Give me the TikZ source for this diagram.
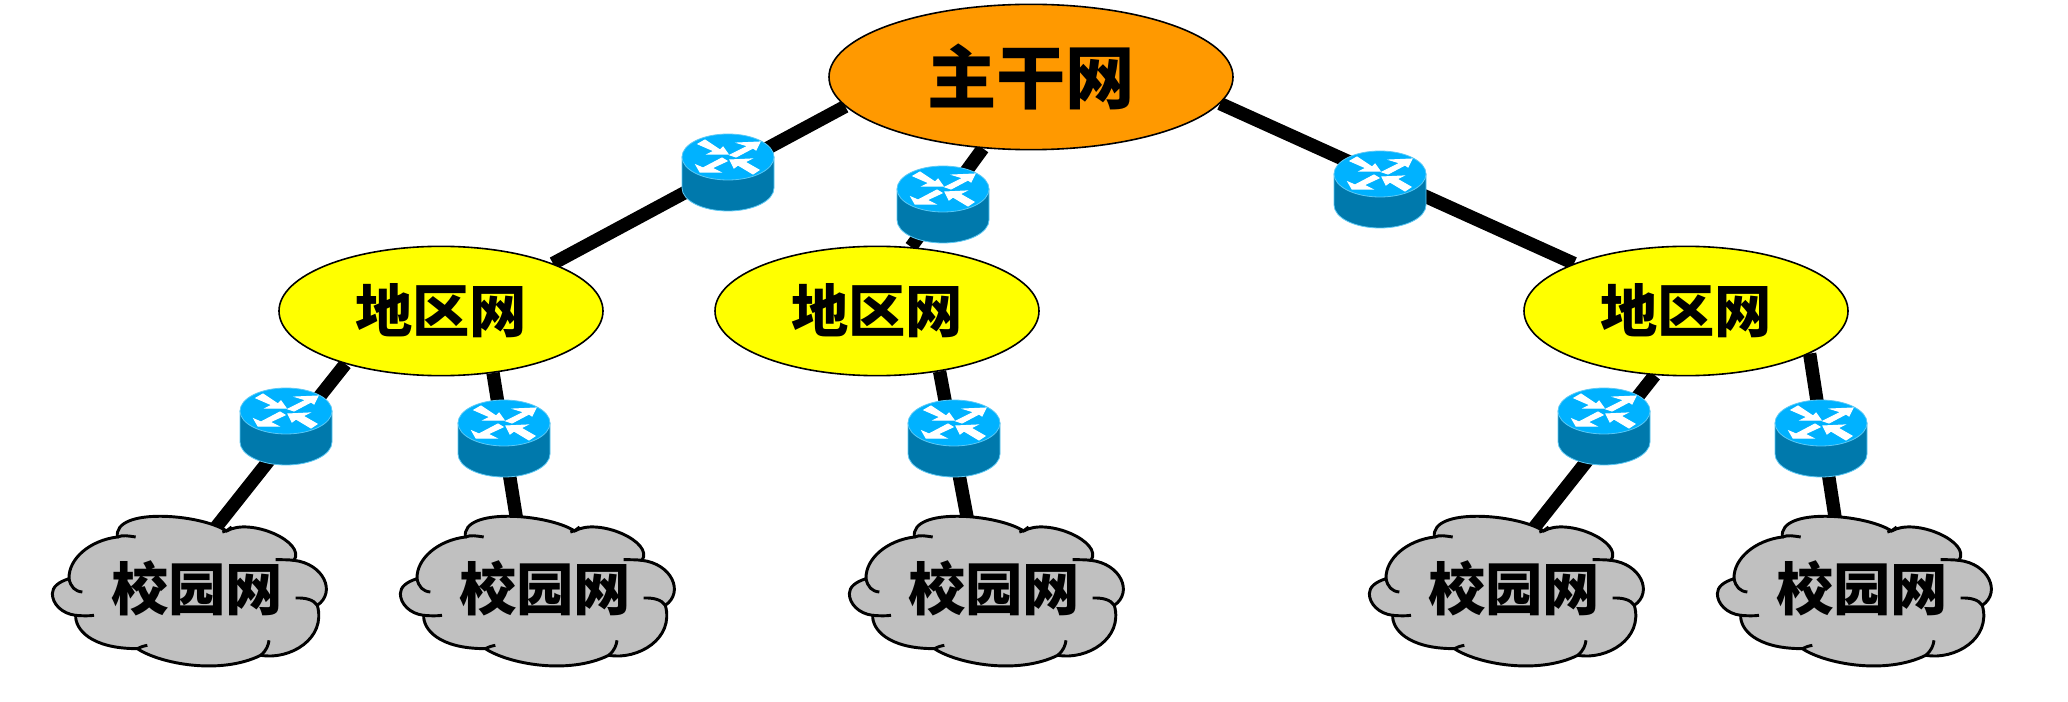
\documentclass[tikz,border=0pt]{standalone}
\usepackage{fontspec}
\newfontfamily\cjk{Noto Sans CJK SC}
\usetikzlibrary{shapes.geometric,backgrounds}
\definecolor{mainfill}{RGB}{255,153,0}
\definecolor{regfill}{RGB}{255,255,0}
\definecolor{cloudfill}{RGB}{192,192,192}
\definecolor{routertop}{RGB}{0,178,255}
\definecolor{routerside}{RGB}{0,121,172}
\definecolor{routeredge}{RGB}{90,200,245}
\tikzset{
  mainnet/.style={ellipse,draw,line width=1.2pt,fill=mainfill,minimum width=303pt,minimum height=109pt,inner sep=0pt,font=\cjk\bfseries\fontsize{52}{52}\selectfont},
  regnet/.style={ellipse,draw,line width=1.2pt,fill=regfill,minimum width=243pt,minimum height=97pt,inner sep=0pt,font=\cjk\bfseries\fontsize{43}{43}\selectfont},
  campusnet/.style={inner sep=0pt,font=\cjk\bfseries\fontsize{43}{43}\selectfont},
  link/.style={line width=10pt},
  router/.pic={
    \begin{scope}[yscale=-1]
    \draw[routeredge,line width=0.6pt,fill=routerside] (-46,-15) -- (-46,16) arc[start angle=180,end angle=0,x radius=46,y radius=23] -- (46,-15) -- cycle;
    \draw[routeredge,line width=0.6pt,fill=routertop] (0,-15) ellipse[x radius=46,y radius=23];
    \filldraw[white,line width=0.8pt] (-30,-28) -- (-23,-32) -- (-8,-22) -- (-5,-25) -- (0,-18) -- (-20,-18) -- (-14,-21) -- cycle;
    \filldraw[white,line width=0.8pt] (2,-17) -- (20,-26) -- (10,-29) -- (32,-30) -- (28,-22) -- (25,-24) -- (8,-15) -- cycle;
    \filldraw[white,line width=0.8pt] (-6,-14) -- (-1,-11) -- (-16,-4) -- (-8,0) -- (-28,0) -- (-32,-7) -- (-25,-4) -- cycle;
    \filldraw[white,line width=0.8pt] (2,-12) -- (23,-13) -- (17,-10) -- (31,-2) -- (25,2) -- (10,-7) -- (6,-4) -- cycle;
    \end{scope}
  },
  campus/.pic={
    \begin{scope}[scale=0.3333,yscale=-1,line width=2.2pt]
    %Cloud outline
    \draw[fill=cloudfill] (-363,-40) .. controls (-395,-30) and (-413,-15) .. (-413,5)
      .. controls (-413,35) and (-385,65) .. (-343,70)
      .. controls (-345,110) and (-300,170) .. (-158,170)
      .. controls (-90,215) and (90,250) .. (212,190)
      .. controls (300,205) and (410,140) .. (382,40)
      .. controls (440,0) and (400,-85) .. (312,-95)
      .. controls (350,-150) and (180,-225) .. (110,-183)
      .. controls (30,-235) and (-230,-255) .. (-218,-165)
      .. controls (-300,-155) and (-365,-100) .. (-363,-40) -- cycle;
    %Inner strokes
    \draw (-363,-40) .. controls (-358,-15) and (-345,-2) .. (-323,0);
    \draw (-343,70) .. controls (-320,72) and (-305,72) .. (-288,70);
    \draw (-218,-165) .. controls (-200,-172) and (-185,-168) .. (-163,-165);
    \draw (97,-180) .. controls (105,-180) and (112,-185) .. (125,-195);
    \draw (312,-95) .. controls (295,-97) and (275,-97) .. (257,-97);
    \draw (382,40) .. controls (370,22) and (345,17) .. (317,18);
    \draw (212,190) .. controls (230,175) and (235,160) .. (237,145);
    \draw (-158,170) .. controls (-148,165) and (-140,162) .. (-128,160);
    \end{scope}
  },
}
\begin{document}
\begin{tikzpicture}[x=0.75pt,y=0.75pt,yscale=-1,xscale=1]
\useasboundingbox (0,0) rectangle (2068,702);

% Ellipse Nodes
\node[mainnet] (backbone) at (1031,77) {\raisebox{2pt}{主干网}};
\node[regnet] (regionA) at (441,311) {地区网};
\node[regnet] (regionB) at (877,311) {地区网};
\node[regnet] (regionC) at (1686,311) {地区网};

% Router Coordinates
\coordinate (routerA) at (728,172);
\coordinate (routerB) at (943,204);
\coordinate (routerC) at (1380,189);
\coordinate (routerD) at (286,426);
\coordinate (routerE) at (504,438);
\coordinate (routerF) at (954,438);
\coordinate (routerG) at (1604,426);
\coordinate (routerH) at (1821,438);

%Clouds
\pic at (190,592) {campus};
\pic at (538,592) {campus};
\pic at (987,592) {campus};
\pic at (1507,592) {campus};
\pic at (1855,592) {campus};

% Text Node
\node[campusnet] (campusA) at (197,588) {校园网};
\node[campusnet] (campusB) at (545,588) {校园网};
\node[campusnet] (campusC) at (994,588) {校园网};
\node[campusnet] (campusD) at (1514,588) {校园网};
\node[campusnet] (campusE) at (1862,588) {校园网};

%Links
\begin{pgfonlayer}{background}
\draw[link] (backbone.189) -- (regionA.23);
\draw[link] (backbone.236) -- (regionB.62);
\draw[link] (backbone.352) -- (regionC.157);
\draw[link] (regionA.209) -- (campusA.104);
\draw[link] (regionA.310) -- (campusB.128);
\draw[link] (regionB.316) -- (campusC.124);
\draw[link] (regionC.244) -- (campusD.101);
\draw[link] (regionC.341) -- (campusE.126);
\end{pgfonlayer}

%Routers
\foreach \r in {routerA,routerB,routerC,routerD,routerE,routerF,routerG,routerH}
  \pic at (\r) {router};

\end{tikzpicture}
\end{document}
